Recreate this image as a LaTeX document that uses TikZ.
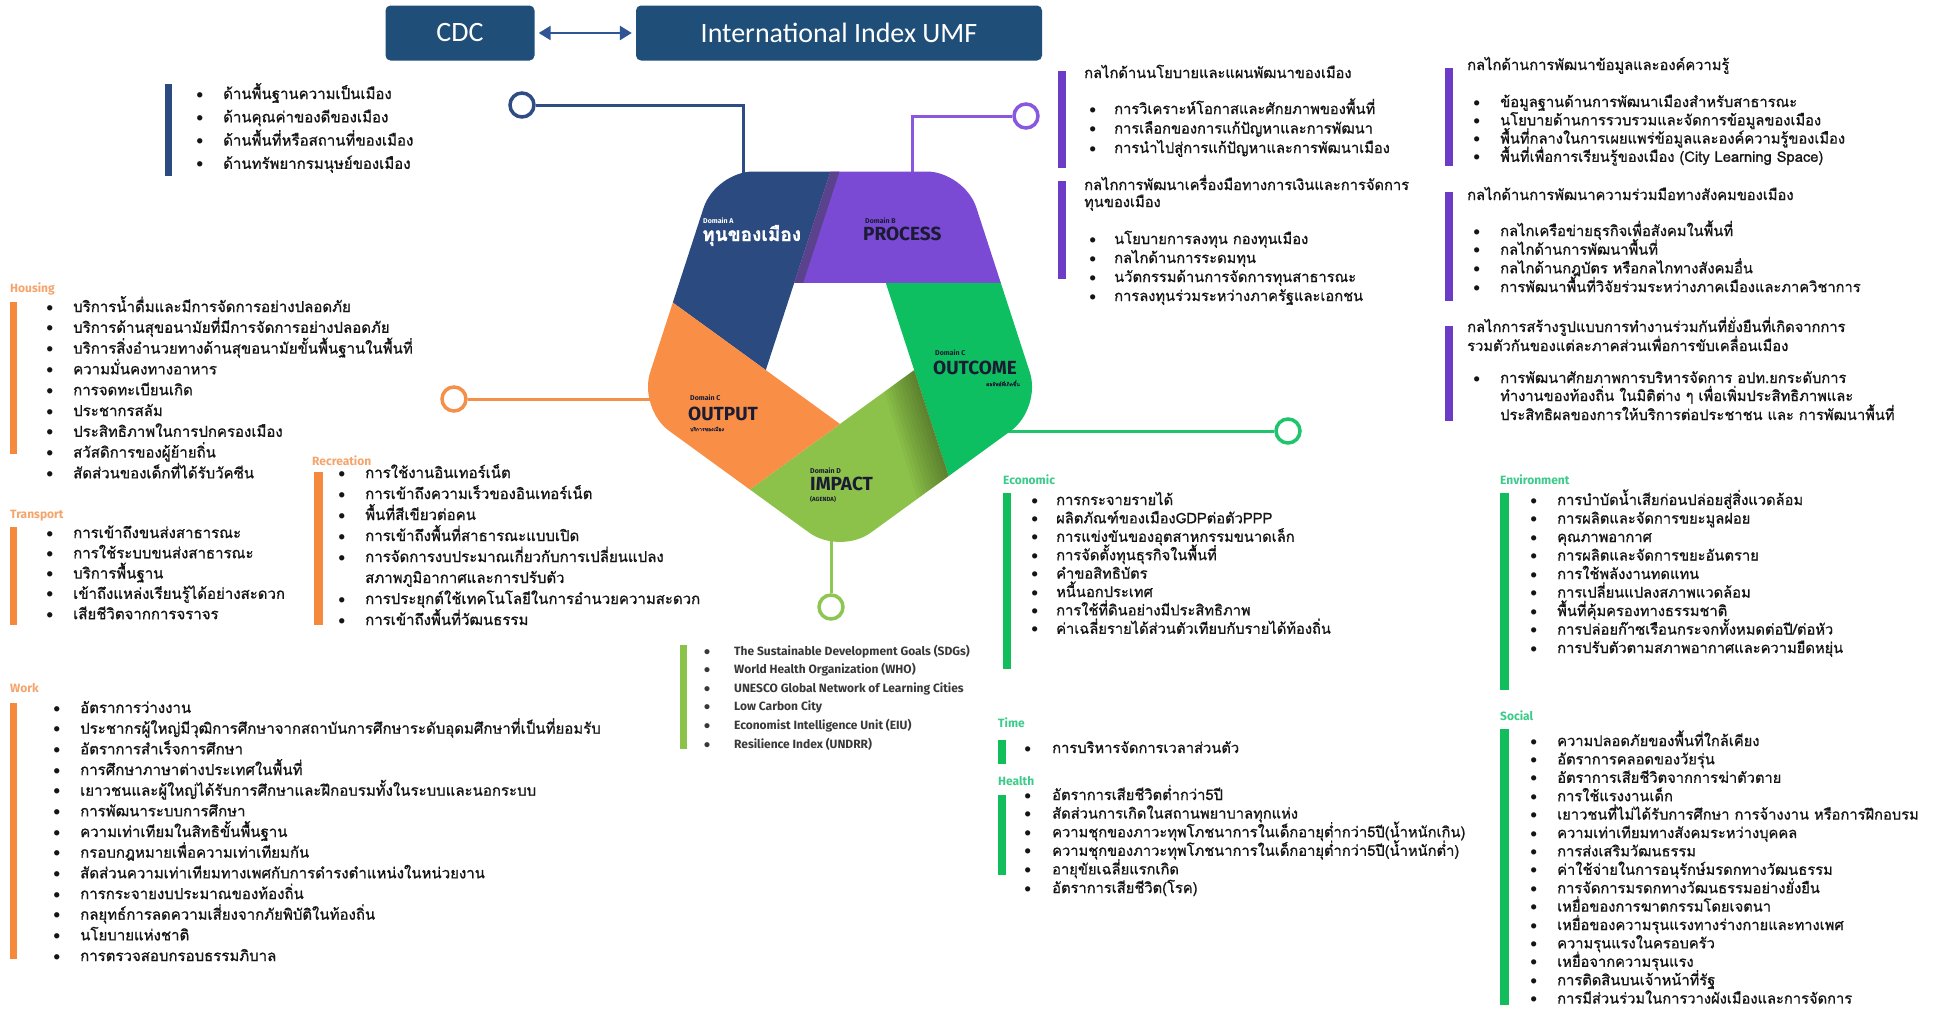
\documentclass[tikz,border=0pt]{standalone}
\usepackage{fontspec}
\setmainfont{Carlito}
\setsansfont{Fira Sans}
\newfontfamily\thai[Script=Thai, FakeBold=1.0]{Loma}
\usepackage{tikz}
\usetikzlibrary{arrows.meta,calc}

\definecolor{navy}{HTML}{1F4E79}
\definecolor{arrowblue}{HTML}{2F5597}
\definecolor{doma}{HTML}{2B4A7F}
\definecolor{domb}{HTML}{7A4AD4}
\definecolor{domc}{HTML}{0DBF60}
\definecolor{domd}{HTML}{8CC24A}
\definecolor{dome}{HTML}{F98F47}
\definecolor{dtext}{HTML}{1B1B33}
\definecolor{ink}{HTML}{151515}
\definecolor{purplebar}{HTML}{6D3CC6}
\definecolor{greenbar}{HTML}{12BD5C}
\definecolor{orangebar}{HTML}{F68A3C}
\definecolor{orangetitle}{HTML}{F5A46C}
\definecolor{greentitle}{HTML}{3CCB8A}
\definecolor{limebar}{HTML}{8BC34A}
\definecolor{ringa}{HTML}{2F4C84}
\definecolor{ringb}{HTML}{8A58DE}
\definecolor{ringc}{HTML}{F5904A}
\definecolor{ringd}{HTML}{1EC56A}
\definecolor{ringe}{HTML}{8DC653}

\newcommand{\itm}[2][27pt]{\makebox[#1][l]{\rmfamily\textbullet}#2}

\tikzset{
  hd/.style={anchor=base west, inner sep=0pt, text=#1, font=\sffamily\bfseries\fontsize{12}{14}\selectfont},
  li/.style={anchor=base west, inner sep=0pt, text=ink, font=\thai\fontsize{15}{18}\selectfont},
  lis/.style={li, font=\thai\fontsize{14.7}{18}\selectfont},
  sg/.style={anchor=base west, inner sep=0pt, text=ink!85, font=\sffamily\bfseries\fontsize{12}{14}\selectfont},
  ring/.style={circle, draw=#1, line width=3.5pt, fill=white, minimum size=24pt, inner sep=0pt},
  link/.style={draw=#1, line width=3pt},
  dlab/.style={anchor=base west, inner sep=0pt, text=dtext, font=\sffamily\bfseries\fontsize{7}{8}\selectfont},
  dname/.style={anchor=base west, inner sep=0pt, text=dtext, font=\sffamily\bfseries\fontsize{19}{22}\selectfont},
  hbox/.style={rectangle, rounded corners=5pt, fill=navy, text=white, minimum height=55pt, font=\fontsize{28}{32}\selectfont},
}

\begin{document}
\begin{tikzpicture}[x=1pt, y=-1pt, >={Triangle[length=12pt,width=14pt]}]
  \useasboundingbox (0,0) rectangle (1941,1009);
  \fill[white] (0,0) rectangle (1941,1009);

  % header
  \node[hbox, minimum width=149pt] (cdc) at (460,33) {CDC};
  \node[hbox, minimum width=406pt] (umf) at (839,33) {International Index UMF};
  \draw[<->, arrowblue, line width=2.5pt, shorten <=4pt, shorten >=4pt] (cdc) -- (umf);

  % rings and connectors
  \node[ring=ringa] (ca) at (522,105) {};
  \node[ring=ringb] (cb) at (1026,116) {};
  \node[ring=ringc] (cc) at (454,399) {};
  \node[ring=ringd] (cd) at (1288,431) {};
  \node[ring=ringe] (ce) at (831,607) {};
  \coordinate (ta) at (743,200);
  \coordinate (tb) at (912,200);
  \coordinate (tc) at (680,399);
  \coordinate (td) at (1000,431);
  \coordinate (te) at (831,520);
  \draw[link=ringa] (ca) -- (ta |- ca) -- (ta);
  \draw[link=ringb] (cb) -- (tb |- cb) -- (tb);
  \draw[link=ringc] (cc) -- (tc);
  \draw[link=ringd] (cd) -- (td);
  \draw[link=ringe] (ce) -- (te);

  % pentagon
  \coordinate (TL) at (794.2,282.9);
  \coordinate (TR) at (885.8,282.9);
  \coordinate (R)  at (914.2,370.1);
  \coordinate (B)  at (840,424);
  \coordinate (L)  at (765.8,370.1);
  \begin{scope}
    \clip[rounded corners=38pt] (840,171.5) -- (964.6,171.5) -- (1041.6,408.5)
      -- (840,555) -- (638.4,408.5) -- (715.4,171.5) -- cycle;
    \fill[doma] (L) -- ($(L)!6!(TL)$) -- ($(B)!6!(L)$) -- cycle;
    \fill[domb] (TL) -- ($(TL)!6!(TR)$) -- ($(L)!6!(TL)$) -- cycle;
    \fill[domc] (TR) -- ($(TR)!6!(R)$) -- ($(TL)!6!(TR)$) -- cycle;
    \fill[domd] (R) -- ($(R)!6!(B)$) -- ($(TR)!6!(R)$) -- cycle;
    \fill[dome] (B) -- ($(B)!6!(L)$) -- ($(R)!6!(B)$) -- cycle;
    \fill[domb!60!black!90] (TL) -- ($(L)!6!(TL)$) -- ($(L)!6!(TL)+(9,0)$) -- ($(TL)+(9,0)$) -- cycle;
    % soft shadow along impact/outcome
    \foreach \k in {1,...,10}
      \fill[black, opacity=0.035] (R) -- ($(TR)!6!(R)$) -- ($(TR)!6!(R)+(-4.5*\k,0)$) -- ($(R)!0.04*\k!(B)$) -- cycle;
  \end{scope}

  % domain labels
  \node[dlab, text=white] (da) at (703,223) {Domain A};
  \node[anchor=base west, inner sep=0pt, text=white, font=\thai\bfseries\fontsize{19}{22}\selectfont] (na) at (702,241) {ทุนของเมือง};
  \node[dlab] (db) at (865,223) {Domain B};
  \node[dname] (nb) at (863,240) {PROCESS};
  \node[dlab] (dc) at (935,355) {Domain C};
  \node[dname] (nc) at (933,374) {OUTCOME};
  \node[anchor=base east, inner sep=0pt, text=dtext, font=\thai\fontsize{5}{6}\selectfont] (sc) at (1020,386) {ผลลัพธ์ที่เกิดขึ้น};
  \node[dlab] (dd) at (690,400) {Domain C};
  \node[dname] (nd) at (688,420) {OUTPUT};
  \node[anchor=base west, inner sep=0pt, text=dtext, font=\thai\fontsize{5}{6}\selectfont] (sd) at (690,431) {บริการของเมือง};
  \node[dlab] (de) at (810,473) {Domain D};
  \node[dname] (ne) at (810,490) {IMPACT};
  \node[dlab, font=\sffamily\bfseries\fontsize{6}{7}\selectfont] (se) at (810,501) {(AGENDA)};

  % city capital
  \fill[doma] (165,84) rectangle (172,176);
  \foreach \t [count=\i from 0] in {ด้านพื้นฐานความเป็นเมือง, ด้านคุณค่าของดีของเมือง,
      ด้านพื้นที่หรือสถานที่ของเมือง, ด้านทรัพยากรมนุษย์ของเมือง}
    \node[li] (kp\i) at (196,99+\i*23.3) {\itm{\t}};

  % output: housing
  \fill[orangebar] (10,302) rectangle (17,454);
  \node[hd=orangetitle] (hhs) at (10,292) {Housing};
  \foreach \t [count=\i from 0] in {บริการน้ำดื่มและมีการจัดการอย่างปลอดภัย,
      บริการด้านสุขอนามัยที่มีการจัดการอย่างปลอดภัย,
      บริการสิ่งอำนวยทางด้านสุขอนามัยขั้นพื้นฐานในพื้นที่,
      ความมั่นคงทางอาหาร, การจดทะเบียนเกิด, ประชากรสลัม,
      ประสิทธิภาพในการปกครองเมือง, สวัสดิการของผู้ย้ายถิ่น,
      สัดส่วนของเด็กที่ได้รับวัคซีน}
    \node[li] (hs\i) at (46,312+\i*20.8) {\itm{\t}};

  % output: transport
  \fill[orangebar] (10,527) rectangle (17,625);
  \node[hd=orangetitle] (htp) at (10,518) {Transport};
  \foreach \t [count=\i from 0] in {การเข้าถึงขนส่งสาธารณะ, การใช้ระบบขนส่งสาธารณะ,
      บริการพื้นฐาน, เข้าถึงแหล่งเรียนรู้ได้อย่างสะดวก, เสียชีวิตจากการจราจร}
    \node[li] (tp\i) at (46,538+\i*20.3) {\itm{\t}};

  % output: recreation
  \fill[orangebar] (314,472) rectangle (323,625);
  \node[hd=orangetitle] (hrc) at (312,465) {Recreation};
  \foreach \y/\t [count=\i from 0] in {478/การใช้งานอินเทอร์เน็ต,
      499/การเข้าถึงความเร็วของอินเทอร์เน็ต, 520/พื้นที่สีเขียวต่อคน,
      541/การเข้าถึงพื้นที่สาธารณะแบบเปิด,
      562/การจัดการงบประมาณเกี่ยวกับการเปลี่ยนแปลง,
      604/การประยุกต์ใช้เทคโนโลยีในการอำนวยความสะดวก,
      625/การเข้าถึงพื้นที่วัฒนธรรม}
    \node[li] (rc\i) at (338,\y) {\itm{\t}};
  \node[li] (rcx) at (365,583) {สภาพภูมิอากาศและการปรับตัว};

  % output: work
  \fill[orangebar] (10,703) rectangle (17,959);
  \node[hd=orangetitle] (hwk) at (10,692) {Work};
  \foreach \t [count=\i from 0] in {อัตราการว่างงาน,
      ประชากรผู้ใหญ่มีวุฒิการศึกษาจากสถาบันการศึกษาระดับอุดมศึกษาที่เป็นที่ยอมรับ,
      อัตราการสำเร็จการศึกษา, การศึกษาภาษาต่างประเทศในพื้นที่,
      เยาวชนและผู้ใหญ่ได้รับการศึกษาและฝึกอบรมทั้งในระบบและนอกระบบ,
      การพัฒนาระบบการศึกษา, ความเท่าเทียมในสิทธิขั้นพื้นฐาน,
      กรอบกฎหมายเพื่อความเท่าเทียมกัน,
      สัดส่วนความเท่าเทียมทางเพศกับการดำรงตำแหน่งในหน่วยงาน,
      การกระจายงบประมาณของท้องถิ่น,
      กลยุทธ์การลดความเสี่ยงจากภัยพิบัติในท้องถิ่น,
      นโยบายแห่งชาติ, การตรวจสอบกรอบธรรมภิบาล}
    \node[li] (wk\i) at (53,713+\i*20.67) {\itm{\t}};

  % impact sources
  \fill[limebar] (680,645) rectangle (687,749);
  \foreach \t [count=\i from 0] in {The Sustainable Development Goals (SDGs),
      World Health Organization (WHO), UNESCO Global Network of Learning Cities,
      Low Carbon City, Economist Intelligence Unit (EIU), Resilience Index (UNDRR)}
    \node[sg] (sg\i) at (704,655+\i*18.6) {\itm[30pt]{\t}};

  % process, middle column
  \fill[purplebar] (1058,71) rectangle (1066,168);
  \node[lis] (ha) at (1084,78) {กลไกด้านนโยบายและแผนพัฒนาของเมือง};
  \foreach \t [count=\i from 0] in {การวิเคราะห์โอกาสและศักยภาพของพื้นที่,
      การเลือกของการแก้ปัญหาและการพัฒนา, การนำไปสู่การแก้ปัญหาและการพัฒนาเมือง}
    \node[lis] (ma\i) at (1089,114+\i*19.5) {\itm[25pt]{\t}};

  \fill[purplebar] (1058,181) rectangle (1066,279);
  \node[lis] (hb) at (1084,190) {กลไกการพัฒนาเครื่องมือทางการเงินและการจัดการ};
  \node[lis] (hbx) at (1084,207) {ทุนของเมือง};
  \foreach \t [count=\i from 0] in {นโยบายการลงทุน กองทุนเมือง, กลไกด้านการระดมทุน,
      นวัตกรรมด้านการจัดการทุนสาธารณะ, การลงทุนร่วมระหว่างภาครัฐและเอกชน}
    \node[lis] (mb\i) at (1089,244+\i*19) {\itm[25pt]{\t}};

  % process, right column
  \fill[purplebar] (1445,68) rectangle (1453,166);
  \node[lis] (hc) at (1467,70) {กลไกด้านการพัฒนาข้อมูลและองค์ความรู้};
  \foreach \t [count=\i from 0] in {ข้อมูลฐานด้านการพัฒนาเมืองสำหรับสาธารณะ,
      นโยบายด้านการรวบรวมและจัดการข้อมูลของเมือง,
      พื้นที่กลางในการเผยแพร่ข้อมูลและองค์ความรู้ของเมือง,
      พื้นที่เพื่อการเรียนรู้ของเมือง (City Learning Space)}
    \node[lis] (mc\i) at (1473,107+\i*18.3) {\itm{\t}};

  \fill[purplebar] (1445,192) rectangle (1453,301);
  \node[lis] (hdd) at (1467,200) {กลไกด้านการพัฒนาความร่วมมือทางสังคมของเมือง};
  \foreach \t [count=\i from 0] in {กลไกเครือข่ายธุรกิจเพื่อสังคมในพื้นที่,
      กลไกด้านการพัฒนาพื้นที่, กลไกด้านกฎบัตร หรือกลไกทางสังคมอื่น,
      การพัฒนาพื้นที่วิจัยร่วมระหว่างภาคเมืองและภาควิชาการ}
    \node[lis] (md\i) at (1473,236+\i*18.7) {\itm{\t}};

  \fill[purplebar] (1445,326) rectangle (1453,421);
  \node[lis] (he) at (1467,332) {กลไกการสร้างรูปแบบการทำงานร่วมกันที่ยั่งยืนที่เกิดจากการ};
  \node[lis] (hex) at (1467,351) {รวมตัวกันของแต่ละภาคส่วนเพื่อการขับเคลื่อนเมือง};
  \node[lis] (me0) at (1473,383) {\itm{การพัฒนาศักยภาพการบริหารจัดการ อปท.ยกระดับการ}};
  \node[lis] (me1) at (1500,401) {ทำงานของท้องถิ่น ในมิติต่าง ๆ เพื่อเพิ่มประสิทธิภาพและ};
  \node[lis] (me2) at (1500,420) {ประสิทธิผลของการให้บริการต่อประชาชน และ การพัฒนาพื้นที่};

  % outcome: economic
  \fill[greenbar] (1003,493) rectangle (1011,669);
  \node[hd=greentitle] (hec) at (1003,484) {Economic};
  \foreach \t [count=\i from 0] in {การกระจายรายได้, ผลิตภัณฑ์ของเมืองGDPต่อตัวPPP,
      การแข่งขันของอุตสาหกรรมขนาดเล็ก, การจัดตั้งทุนธุรกิจในพื้นที่,
      คำขอสิทธิบัตร, หนี้นอกประเทศ, การใช้ที่ดินอย่างมีประสิทธิภาพ,
      ค่าเฉลี่ยรายได้ส่วนตัวเทียบกับรายได้ท้องถิ่น}
    \node[lis] (ec\i) at (1031,505+\i*18.4) {\itm[25pt]{\t}};

  % outcome: time
  \fill[greenbar] (998,740) rectangle (1006,764);
  \node[hd=greentitle] (htm) at (998,727) {Time};
  \node[lis] (tm) at (1024,753) {\itm[28pt]{การบริหารจัดการเวลาส่วนตัว}};

  % outcome: health
  \fill[greenbar] (998,795) rectangle (1006,875);
  \node[hd=greentitle] (hht) at (998,785) {Health};
  \foreach \t [count=\i from 0] in {อัตราการเสียชีวิตต่ำกว่า5ปี,
      สัดส่วนการเกิดในสถานพยาบาลทุกแห่ง,
      ความชุกของภาวะทุพโภชนาการในเด็กอายุต่ำกว่า5ปี(น้ำหนักเกิน),
      ความชุกของภาวะทุพโภชนาการในเด็กอายุต่ำกว่า5ปี(น้ำหนักต่ำ),
      อายุขัยเฉลี่ยแรกเกิด, อัตราการเสียชีวิต(โรค)}
    \node[lis] (ht\i) at (1024,800+\i*18.6) {\itm[28pt]{\t}};

  % outcome: environment
  \fill[greenbar] (1500,493) rectangle (1509,690);
  \node[hd=greentitle] (hen) at (1500,484) {Environment};
  \foreach \t [count=\i from 0] in {การบำบัดน้ำเสียก่อนปล่อยสู่สิ่งแวดล้อม,
      การผลิตและจัดการขยะมูลฝอย, คุณภาพอากาศ, การผลิตและจัดการขยะอันตราย,
      การใช้พลังงานทดแทน, การเปลี่ยนแปลงสภาพแวดล้อม, พื้นที่คุ้มครองทางธรรมชาติ,
      การปล่อยก๊าซเรือนกระจกทั้งหมดต่อปี/ต่อหัว,
      การปรับตัวตามสภาพอากาศและความยืดหยุ่น}
    \node[lis] (en\i) at (1530,505+\i*18.5) {\itm{\t}};

  % outcome: social
  \fill[greenbar] (1500,729) rectangle (1509,1005);
  \node[hd=greentitle] (hso) at (1500,720) {Social};
  \foreach \t [count=\i from 0] in {ความปลอดภัยของพื้นที่ใกล้เคียง, อัตราการคลอดของวัยรุ่น,
      อัตราการเสียชีวิตจากการฆ่าตัวตาย, การใช้แรงงานเด็ก,
      เยาวชนที่ไม่ได้รับการศึกษา การจ้างงาน หรือการฝึกอบรม,
      ความเท่าเทียมทางสังคมระหว่างบุคคล, การส่งเสริมวัฒนธรรม,
      ค่าใช้จ่ายในการอนุรักษ์มรดกทางวัฒนธรรม,
      การจัดการมรดกทางวัฒนธรรมอย่างยั่งยืน, เหยื่อของการฆาตกรรมโดยเจตนา,
      เหยื่อของความรุนแรงทางร่างกายและทางเพศ, ความรุนแรงในครอบครัว,
      เหยื่อจากความรุนแรง, การติดสินบนเจ้าหน้าที่รัฐ,
      การมีส่วนร่วมในการวางผังเมืองและการจัดการ}
    \node[lis] (so\i) at (1530,746+\i*18.4) {\itm{\t}};
\end{tikzpicture}
\end{document}
